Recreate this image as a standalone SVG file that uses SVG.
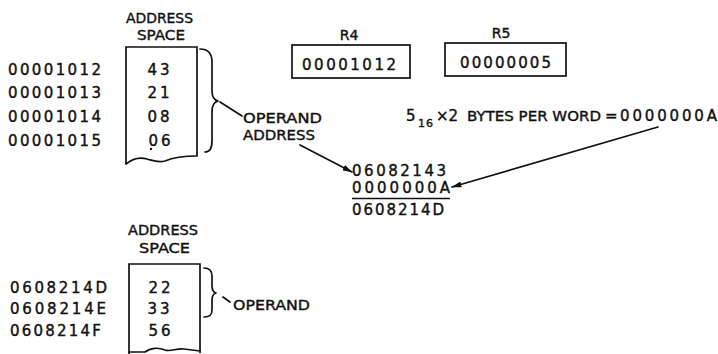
<svg xmlns="http://www.w3.org/2000/svg" width="718" height="354" viewBox="0 0 718 354">
<style>
text{font-family:"DejaVu Sans","Liberation Sans",sans-serif;fill:#111;stroke:#111;stroke-width:0.4;}
.d{font-size:15px;}
.l{font-size:14px;}
.sub{font-size:11px;}
.box{fill:none;stroke:#111;stroke-width:1.7;}
.ln{fill:none;stroke:#111;stroke-width:1.7;stroke-linecap:round;stroke-linejoin:round;}
</style>
<defs>
<marker id="ah" viewBox="0 0 10 6" refX="9.5" refY="3" markerWidth="10" markerHeight="6" markerUnits="userSpaceOnUse" orient="auto">
<path d="M0,0 L10,3 L0,6 Z" fill="#111"/>
</marker>
</defs>
<rect width="718" height="354" fill="#fff"/>

<g id="top-memory">
<text class="l" x="126" y="23" textLength="67" lengthAdjust="spacingAndGlyphs">ADDRESS</text>
<text class="l" x="137" y="40" textLength="48" lengthAdjust="spacingAndGlyphs">SPACE</text>
<path class="box" d="M126,164 L126,47 L197,47 L197,156"/>
<path class="ln" d="M126,164 C132,159 140,157 147,159 C154,161 158,163 165,161 C172,158 180,156 197,156"/>
<text class="d" x="8" y="75" textLength="93" lengthAdjust="spacing">00001012</text>
<text class="d" x="8" y="98" textLength="93" lengthAdjust="spacing">00001013</text>
<text class="d" x="8" y="122" textLength="93" lengthAdjust="spacing">00001014</text>
<text class="d" x="8" y="146" textLength="93" lengthAdjust="spacing">00001015</text>
<text class="d" x="160" y="75" text-anchor="middle" letter-spacing="3">43</text>
<text class="d" x="160" y="98" text-anchor="middle" letter-spacing="3">21</text>
<text class="d" x="160" y="122" text-anchor="middle" letter-spacing="3">08</text>
<text class="d" x="161" y="146" text-anchor="middle" letter-spacing="3">06</text>
<circle cx="151" cy="149" r="1.2" fill="#111"/>
<path class="ln" d="M200,49 C209,49 212,54 212,62 L212,91 C212,97 214,100 218,101 C214,102 212,106 212,112 L212,141 C212,148 210,152 205,152"/>
</g>

<g id="operand-address-label">
<text class="l" x="243" y="123" textLength="79" lengthAdjust="spacingAndGlyphs">OPERAND</text>
<text class="l" x="243" y="140" textLength="72" lengthAdjust="spacingAndGlyphs">ADDRESS</text>
</g>

<g id="r4">
<text class="l" x="349" y="40" text-anchor="middle">R4</text>
<rect class="box" x="292" y="45" width="118" height="33"/>
<text class="d" x="302" y="70" textLength="94" lengthAdjust="spacing">00001012</text>
</g>

<g id="r5">
<text class="l" x="501" y="38" text-anchor="middle">R5</text>
<rect class="box" x="445" y="43" width="121" height="33"/>
<text class="d" x="460" y="68" textLength="91" lengthAdjust="spacing">00000005</text>
</g>

<g id="scale-label">
<text class="d" x="406" y="121">5</text>
<text class="sub" x="418" y="127" letter-spacing="1">16</text>
<text class="d" x="436" y="121">×2</text>
<text class="l" x="467" y="121" textLength="134" lengthAdjust="spacingAndGlyphs">BYTES PER WORD</text>
<text class="d" x="605" y="121">=</text>
<text class="d" x="620" y="121" textLength="97" lengthAdjust="spacing">0000000A</text>
</g>

<g id="sum">
<text class="d" x="352" y="176" textLength="94" lengthAdjust="spacing">06082143</text>
<text class="d" x="352" y="193" textLength="98" lengthAdjust="spacing">0000000A</text>
<line class="box" x1="352" y1="198.5" x2="450" y2="198.5"/>
<text class="d" x="352" y="215" textLength="92" lengthAdjust="spacing">0608214D</text>
</g>

<g id="bottom-memory">
<text class="l" x="128" y="235" textLength="70" lengthAdjust="spacingAndGlyphs">ADDRESS</text>
<text class="l" x="139" y="253" textLength="51" lengthAdjust="spacingAndGlyphs">SPACE</text>
<path class="box" d="M129,354 L129,264 L200,264 L200,353"/>
<path class="ln" d="M129,352 L145,352 C150,348 158,347 165,350 C171,352 176,348 184,349 L200,351"/>
<text class="d" x="10" y="293" textLength="97" lengthAdjust="spacing">0608214D</text>
<text class="d" x="10" y="314" textLength="96" lengthAdjust="spacing">0608214E</text>
<text class="d" x="10" y="336" textLength="91" lengthAdjust="spacing">0608214F</text>
<text class="d" x="161" y="293" text-anchor="middle" letter-spacing="3">22</text>
<text class="d" x="160" y="314" text-anchor="middle" letter-spacing="3">33</text>
<text class="d" x="161" y="336" text-anchor="middle" letter-spacing="3">56</text>
<path class="ln" d="M204,268 C210,268 212,271 212,276 L212,286 C212,290 213,292 216,293 C213,294 212,296 212,300 L212,310 C212,315 210,317 204,317"/>
<text class="l" x="233" y="310" textLength="77" lengthAdjust="spacingAndGlyphs">OPERAND</text>
</g>

<g id="connectors">
<line class="ln" x1="220" y1="102" x2="242" y2="116"/>
<line class="ln" x1="223" y1="297" x2="230" y2="302"/>
<line class="ln" x1="300" y1="145" x2="352" y2="172" marker-end="url(#ah)"/>
<line class="ln" x1="658" y1="127" x2="452" y2="187" marker-end="url(#ah)"/>
</g>
</svg>
